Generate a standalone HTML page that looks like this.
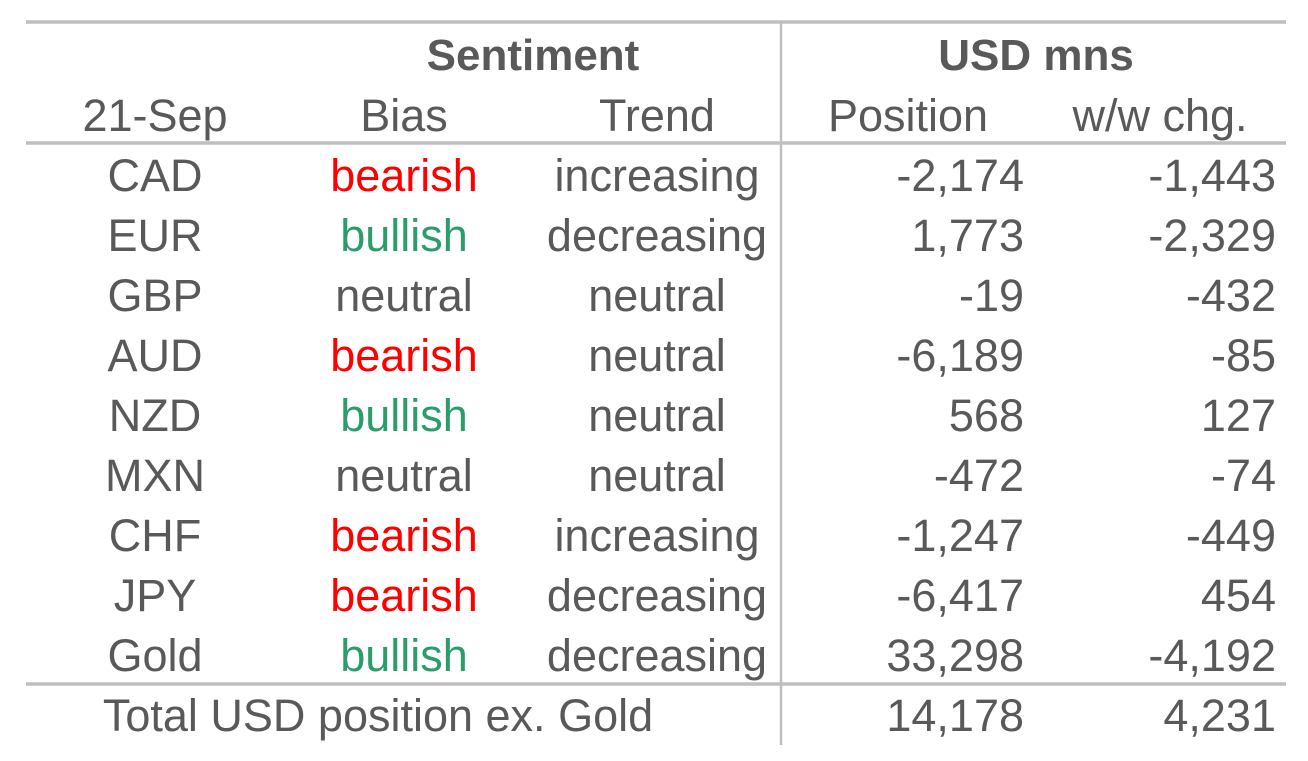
<!DOCTYPE html>
<html><head><meta charset="utf-8"><style>
html,body{margin:0;padding:0;background:#fff;}
svg{display:block;}
text{font-family:"Liberation Sans",sans-serif;font-size:45px;fill:#595959;}
.b{font-weight:bold;font-size:44px;}
</style></head><body>
<svg width="1308" height="761">
<line x1="26" y1="22" x2="1286" y2="22" stroke="#bfbfbf" stroke-width="3.5"/>
<line x1="26" y1="143" x2="1286" y2="143" stroke="#bfbfbf" stroke-width="3.5"/>
<line x1="26" y1="684" x2="1286" y2="684" stroke="#bfbfbf" stroke-width="3.5"/>
<line x1="781" y1="22" x2="781" y2="745" stroke="#bfbfbf" stroke-width="2.5"/>
<text class="b" x="533" y="70" text-anchor="middle">Sentiment</text>
<text class="b" x="1036" y="70" text-anchor="middle">USD mns</text>
<text x="155" y="131" text-anchor="middle">21-Sep</text>
<text x="404" y="131" text-anchor="middle">Bias</text>
<text x="657" y="131" text-anchor="middle">Trend</text>
<text x="908" y="131" text-anchor="middle">Position</text>
<text x="1160" y="131" text-anchor="middle">w/w chg.</text>
<g id="rows"></g>
<text x="378" y="731" text-anchor="middle">Total USD position ex. Gold</text>
<text x="1024" y="731" text-anchor="end">14,178</text>
<text x="1276" y="731" text-anchor="end">4,231</text>
</svg>
<script>
const currencies=["CAD","EUR","GBP","AUD","NZD","MXN","CHF","JPY","Gold"];
const bias=["bearish","bullish","neutral","bearish","bullish","neutral","bearish","bearish","bullish"];
const trend=["increasing","decreasing","neutral","neutral","neutral","neutral","increasing","decreasing","decreasing"];
const positions=["-2,174","1,773","-19","-6,189","568","-472","-1,247","-6,417","33,298"];
const changes=["-1,443","-2,329","-432","-85","127","-74","-449","454","-4,192"];
const g=document.getElementById('rows');
const ns="http://www.w3.org/2000/svg";
function t(x,y,s,anchor,fill,name){
  const e=document.createElementNS(ns,'text');
  e.setAttribute('x',x);e.setAttribute('y',y);e.setAttribute('text-anchor',anchor);
  if(fill)e.setAttribute('style','fill:'+fill);
  e.textContent=s;
  
  
  g.appendChild(e);
}
const col={bearish:"#ff0000",bullish:"#2a9d6a",neutral:null};
currencies.forEach((c,i)=>{
  const y=191+60*i;
  t(155,y,c,'middle',null,'currency-'+c.toLowerCase());
  t(404,y,bias[i],'middle',col[bias[i]],'bias-'+c.toLowerCase());
  t(657,y,trend[i],'middle',null,'trend-'+c.toLowerCase());
  t(1024,y,positions[i],'end',null,'position-'+c.toLowerCase());
  t(1276,y,changes[i],'end',null,'ww-change-'+c.toLowerCase());
});
</script>
</body></html>
